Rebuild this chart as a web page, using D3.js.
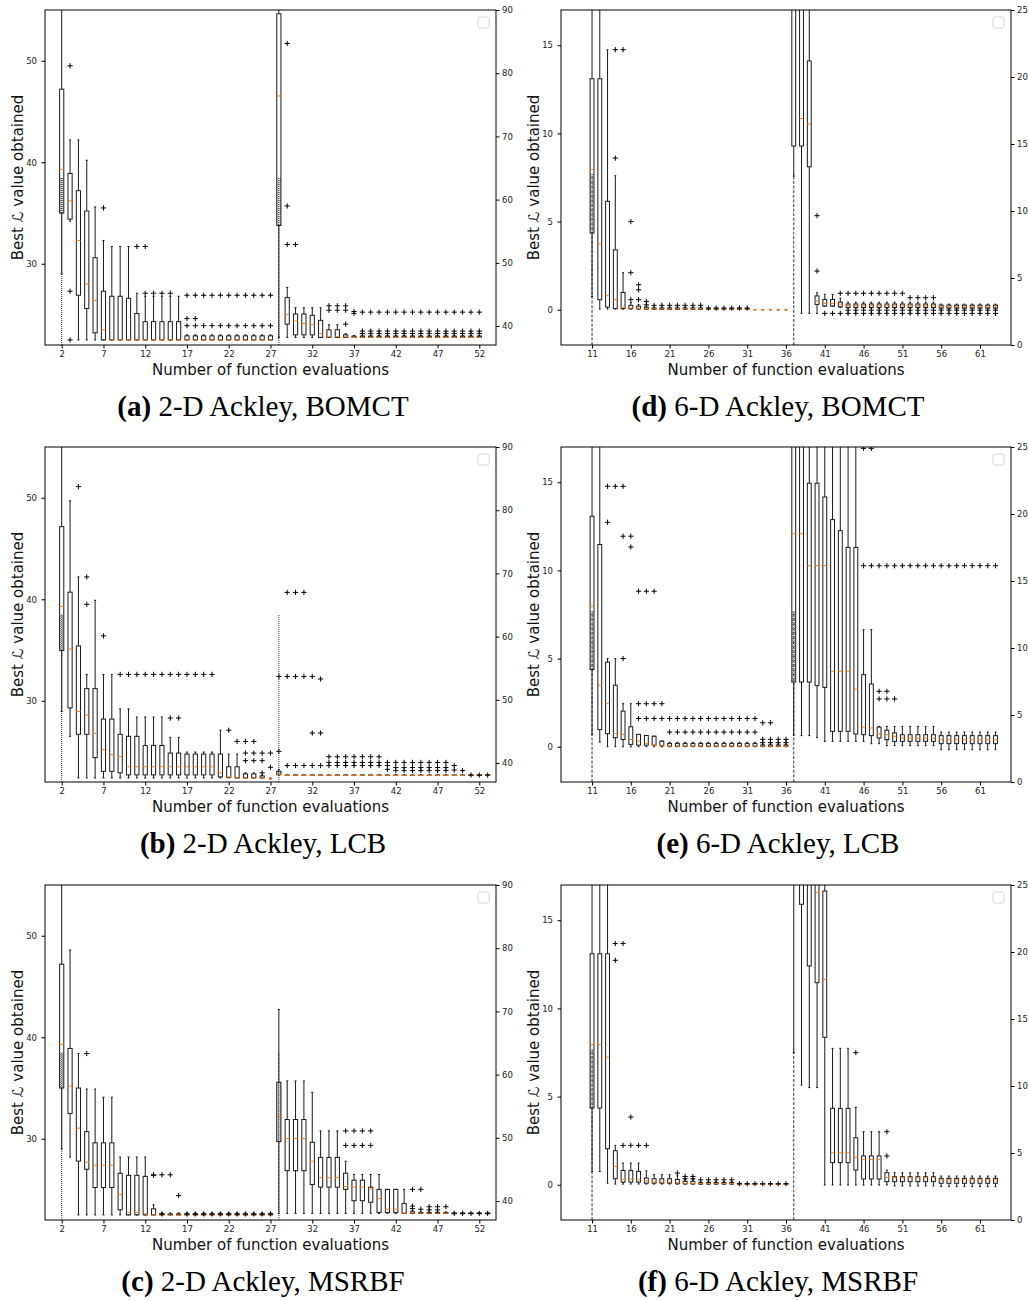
<!DOCTYPE html>
<html>
<head>
<meta charset="utf-8">
<script src="https://cdn.jsdelivr.net/npm/d3@7"></script>
<style>
  body { margin: 0; background: #fff; }
  svg { display: block; }
</style>
</head>
<body>
<svg id="fig" width="1028" height="1301"></svg>
<script>
// Box statistics rows: [position, lowWhisker, q1, median, q3, highWhisker]
// Flier rows: [position, value, value, ...]

// ---- (a) 2-D Ackley, BOMCT
const aLeftStats = [
  [2, 29.0, 35.0, 39.3, 47.2, 60], [3, 34.2, 34.4, 36.2, 38.9, 42.2], [4, 22.5, 26.9, 32.3, 37.2, 42.2],
  [5, 22.5, 25.6, 28.0, 35.2, 40.2], [6, 22.5, 23.2, 26.4, 30.6, 35.6], [7, 22.5, 22.5, 23.5, 27.3, 32.3],
  [8, 22.5, 22.5, 22.5, 26.8, 31.7], [9, 22.5, 22.5, 22.5, 26.8, 31.7], [10, 22.5, 22.5, 22.5, 26.6, 31.7],
  [11, 22.5, 22.5, 22.5, 25.1, 27.1], [12, 22.5, 22.5, 22.5, 24.3, 26.8], [13, 22.5, 22.5, 22.5, 24.3, 26.8],
  [14, 22.5, 22.5, 22.5, 24.3, 26.8], [15, 22.5, 22.5, 22.5, 24.3, 26.8], [16, 22.5, 22.5, 22.5, 24.3, 26.8],
  [17, 22.5, 22.5, 22.5, 22.9, 23.0], [18, 22.5, 22.5, 22.5, 22.9, 23.0], [19, 22.5, 22.5, 22.5, 22.9, 23.0],
  [20, 22.5, 22.5, 22.5, 22.9, 23.0], [21, 22.5, 22.5, 22.5, 22.9, 23.0], [22, 22.5, 22.5, 22.5, 22.9, 23.0],
  [23, 22.5, 22.5, 22.5, 22.9, 23.0], [24, 22.5, 22.5, 22.5, 22.9, 23.0], [25, 22.5, 22.5, 22.5, 22.9, 23.0],
  [26, 22.5, 22.5, 22.5, 22.9, 23.0], [27, 22.5, 22.5, 22.5, 22.9, 23.0]
];
const aLeftFliers = [
  [3, 49.5, 27.3, 22.5], [7, 35.5], [11, 31.7], [12, 31.7, 27.1], [13, 27.1], [14, 27.1], [15, 27.1],
  [17, 26.9, 24.6, 23.9], [18, 26.9, 24.6, 23.9], [19, 26.9, 23.9], [20, 26.9, 23.9], [21, 26.9, 23.9],
  [22, 26.9, 23.9], [23, 26.9, 23.9], [24, 26.9, 23.9], [25, 26.9, 23.9], [26, 26.9, 23.9], [27, 26.9, 23.9]
];
const aRightStats = [
  [28, 38.2, 55.9, 76.4, 89.4, 95], [29, 38.2, 40.3, 41.8, 44.5, 46.1], [30, 38.2, 38.6, 40.8, 41.9, 42.9],
  [31, 38.2, 38.6, 40.4, 41.9, 42.9], [32, 38.2, 38.6, 40.2, 41.7, 42.9], [33, 38.2, 38.2, 38.8, 40.9, 42.9],
  [34, 38.2, 38.2, 38.3, 39.4, 40.2], [35, 38.2, 38.2, 38.3, 39.4, 40.2], [36, 38.2, 38.2, 38.3, 38.6, 38.8],
  [37, 38.2, 38.2, 38.2, 38.4, 38.5], [38, 38.2, 38.2, 38.2, 38.4, 38.5], [39, 38.2, 38.2, 38.2, 38.4, 38.5],
  [40, 38.2, 38.2, 38.2, 38.4, 38.5], [41, 38.2, 38.2, 38.2, 38.4, 38.5], [42, 38.2, 38.2, 38.2, 38.4, 38.5],
  [43, 38.2, 38.2, 38.2, 38.4, 38.5], [44, 38.2, 38.2, 38.2, 38.4, 38.5], [45, 38.2, 38.2, 38.2, 38.4, 38.5],
  [46, 38.2, 38.2, 38.2, 38.4, 38.5], [47, 38.2, 38.2, 38.2, 38.4, 38.5], [48, 38.2, 38.2, 38.2, 38.4, 38.5],
  [49, 38.2, 38.2, 38.2, 38.4, 38.5], [50, 38.2, 38.2, 38.2, 38.4, 38.5], [51, 38.2, 38.2, 38.2, 38.4, 38.5],
  [52, 38.2, 38.2, 38.2, 38.4, 38.5]
];
const aRightFliers = [
  [29, 84.7, 59.0, 52.9], [30, 52.9], [34, 43.2, 42.5], [35, 43.2, 42.5], [36, 43.2, 42.5, 40.3], [37, 42.3, 42.0],
  [38, 42.2, 39.2, 38.8], [39, 42.2, 39.2, 38.8], [40, 42.2, 39.2, 38.8], [41, 42.2, 39.2, 38.8], [42, 42.2, 39.2, 38.8],
  [43, 42.2, 39.2, 38.8], [44, 42.2, 39.2, 38.8], [45, 42.2, 39.2, 38.8], [46, 42.2, 39.2, 38.8], [47, 42.2, 39.2, 38.8],
  [48, 42.2, 39.2, 38.8], [49, 42.2, 39.2, 38.8], [50, 42.2, 39.2, 38.8], [51, 42.2, 39.2, 38.8], [52, 42.2, 39.2, 38.8]
];

// ---- (b) 2-D Ackley, LCB
const bLeftStats = [
  [2, 28.95, 34.95, 39.3, 47.15, 60], [3, 26.5, 29.3, 35.1, 40.7, 49.7], [4, 22.4, 26.7, 28.95, 35.4, 42.2],
  [5, 22.4, 26.7, 28.6, 31.2, 32.6], [6, 22.4, 24.4, 26.8, 31.2, 39.9], [7, 22.4, 23.05, 25.2, 28.2, 32.6],
  [8, 22.4, 23.05, 24.7, 28.2, 32.6], [9, 22.4, 22.9, 24.5, 26.7, 29.2], [10, 22.4, 22.7, 23.5, 26.5, 29.2],
  [11, 22.4, 22.7, 23.5, 26.5, 28.4], [12, 22.4, 22.7, 23.5, 25.6, 28.4], [13, 22.4, 22.7, 23.5, 25.6, 28.4],
  [14, 22.4, 22.7, 23.5, 25.6, 28.4], [15, 22.4, 22.7, 23.5, 24.85, 26.4], [16, 22.4, 22.7, 23.5, 24.85, 26.4],
  [17, 22.4, 22.7, 23.5, 24.75, 24.95], [18, 22.4, 22.7, 23.5, 24.75, 24.95], [19, 22.4, 22.7, 23.5, 24.75, 24.95],
  [20, 22.4, 22.7, 23.5, 24.75, 24.95], [21, 22.4, 22.5, 22.9, 24.75, 27.1], [22, 22.4, 22.45, 22.5, 23.5, 24.75],
  [23, 22.4, 22.4, 22.4, 23.5, 24.75], [24, 22.4, 22.4, 22.4, 22.8, 22.9], [25, 22.4, 22.4, 22.4, 22.8, 22.9],
  [26, 22.4, 22.4, 22.4, 22.6, 22.7], [27, 22.3, 22.3, 22.3, 22.3, 22.4]
];
const bLeftFliers = [
  [4, 51.1], [5, 42.2, 39.5], [7, 36.4], [9, 32.6], [10, 32.6], [11, 32.6], [12, 32.6], [13, 32.6], [14, 32.6],
  [15, 32.6, 28.3], [16, 32.6, 28.3], [17, 32.6], [18, 32.6], [19, 32.6], [20, 32.6],
  [22, 27.1], [23, 26.0], [24, 26.0, 24.85, 24.1], [25, 26.0, 24.85, 24.1], [26, 24.85, 24.1, 22.9], [27, 24.85, 23.45]
];
const bRightStats = [
  [28, 38.1, 38.15, 38.15, 38.7, 39.0], [29, 38.05, 38.05, 38.05, 38.1, 38.1], [30, 38.05, 38.05, 38.05, 38.1, 38.1],
  [31, 38.05, 38.05, 38.05, 38.1, 38.1], [32, 38.05, 38.05, 38.05, 38.1, 38.1], [33, 38.05, 38.05, 38.05, 38.1, 38.1],
  [34, 38.05, 38.05, 38.05, 38.1, 38.1], [35, 38.05, 38.05, 38.05, 38.1, 38.1], [36, 38.05, 38.05, 38.05, 38.1, 38.1],
  [37, 38.05, 38.05, 38.05, 38.1, 38.1], [38, 38.05, 38.05, 38.05, 38.1, 38.1], [39, 38.05, 38.05, 38.05, 38.1, 38.1],
  [40, 38.05, 38.05, 38.05, 38.1, 38.1], [41, 38.05, 38.05, 38.05, 38.1, 38.1], [42, 38.05, 38.05, 38.05, 38.1, 38.1],
  [43, 38.05, 38.05, 38.05, 38.1, 38.1], [44, 38.05, 38.05, 38.05, 38.1, 38.1], [45, 38.05, 38.05, 38.05, 38.1, 38.1],
  [46, 38.05, 38.05, 38.05, 38.1, 38.1], [47, 38.05, 38.05, 38.05, 38.1, 38.1], [48, 38.05, 38.05, 38.05, 38.1, 38.1],
  [49, 38.05, 38.05, 38.05, 38.1, 38.1], [50, 38.05, 38.05, 38.05, 38.1, 38.1], [51, 38.05, 38.05, 38.05, 38.1, 38.1],
  [52, 38.05, 38.05, 38.05, 38.1, 38.1], [53, 38.05, 38.05, 38.05, 38.1, 38.1]
];
const bRightFliers = [
  [28, 53.7, 41.85], [29, 67.0, 53.7, 39.6], [30, 67.0, 53.7, 39.6], [31, 67.0, 53.7, 39.6],
  [32, 53.7, 44.75, 39.6], [33, 53.3, 44.75, 39.6],
  [34, 41.0, 40.1, 39.6], [35, 41.0, 40.1, 39.6], [36, 41.0, 40.1, 39.6], [37, 41.0, 40.1, 39.6],
  [38, 41.0, 40.1, 39.6], [39, 41.0, 40.1, 39.6], [40, 41.0, 40.1, 39.6], [41, 40.1, 39.6, 39.0],
  [42, 40.1, 39.3, 38.8], [43, 40.1, 39.3, 38.8], [44, 40.1, 39.3, 38.8], [45, 40.1, 39.3, 38.8],
  [46, 40.1, 39.3, 38.8], [47, 40.1, 39.3, 38.8], [48, 40.1, 39.3, 38.8], [49, 39.6, 38.9], [50, 38.8],
  [51, 38.1], [52, 38.1], [53, 38.1]
];

// ---- (c) 2-D Ackley, MSRBF
const cLeftStats = [
  [2, 29.0, 35.0, 39.3, 47.2, 60], [3, 28.2, 32.5, 35.2, 38.9, 48.6], [4, 22.5, 27.8, 31.05, 35.0, 38.4],
  [5, 22.5, 27.0, 27.7, 30.7, 34.9], [6, 22.5, 25.2, 27.4, 29.6, 34.9], [7, 22.5, 25.2, 27.4, 29.6, 34.1],
  [8, 22.5, 25.2, 27.4, 29.6, 34.1], [9, 22.5, 23.0, 24.5, 26.6, 28.2], [10, 22.5, 22.5, 22.75, 26.4, 28.2],
  [11, 22.5, 22.5, 22.75, 26.4, 28.2], [12, 22.5, 22.5, 22.6, 26.3, 28.2], [13, 22.5, 22.5, 22.5, 23.1, 23.5],
  [14, 22.5, 22.5, 22.5, 22.6, 22.7], [15, 22.5, 22.5, 22.5, 22.6, 22.7], [16, 22.5, 22.5, 22.5, 22.6, 22.7],
  [17, 22.5, 22.5, 22.5, 22.6, 22.7], [18, 22.5, 22.5, 22.5, 22.6, 22.7], [19, 22.5, 22.5, 22.5, 22.6, 22.7],
  [20, 22.5, 22.5, 22.5, 22.6, 22.7], [21, 22.5, 22.5, 22.5, 22.6, 22.7], [22, 22.5, 22.5, 22.5, 22.6, 22.7],
  [23, 22.5, 22.5, 22.5, 22.6, 22.7], [24, 22.5, 22.5, 22.5, 22.6, 22.7], [25, 22.5, 22.5, 22.5, 22.6, 22.7],
  [26, 22.5, 22.5, 22.5, 22.6, 22.7], [27, 22.5, 22.5, 22.5, 22.6, 22.7]
];
const cLeftFliers = [
  [5, 38.4], [13, 26.45, 26.4], [14, 26.45, 22.6], [15, 26.45], [16, 24.4], [17, 22.6], [18, 22.6], [19, 22.6],
  [20, 22.6], [21, 22.6], [22, 22.6], [23, 22.6], [24, 22.6], [25, 22.6], [26, 22.6], [27, 22.6]
];
const cRightStats = [
  [28, 38.05, 49.4, 53.3, 58.8, 70.3], [29, 38.05, 44.8, 49.9, 52.9, 59.0], [30, 38.05, 44.8, 49.9, 52.9, 59.0],
  [31, 38.05, 44.8, 49.9, 52.9, 59.0], [32, 38.05, 42.6, 46.3, 49.3, 57.2], [33, 38.05, 42.2, 43.7, 46.9, 51.1],
  [34, 38.05, 42.2, 43.7, 46.9, 51.1], [35, 38.05, 42.2, 43.7, 46.9, 51.1], [36, 38.05, 41.85, 42.3, 44.4, 46.3],
  [37, 38.05, 40.05, 42.2, 43.3, 44.2], [38, 38.05, 40.05, 42.2, 43.3, 44.2], [39, 38.05, 39.8, 41.9, 42.2, 44.2],
  [40, 38.05, 38.2, 40.4, 41.85, 44.2], [41, 38.05, 38.2, 38.7, 41.85, 41.85], [42, 38.05, 38.2, 38.7, 41.85, 41.85],
  [43, 38.05, 38.05, 38.1, 39.6, 41.85], [44, 38.05, 38.05, 38.1, 38.3, 38.5], [45, 38.05, 38.05, 38.1, 38.2, 38.3],
  [46, 38.05, 38.05, 38.1, 38.2, 38.3], [47, 38.05, 38.05, 38.1, 38.2, 38.3], [48, 38.05, 38.05, 38.1, 38.2, 38.3],
  [49, 38.0, 38.0, 38.05, 38.1, 38.1], [50, 38.0, 38.0, 38.05, 38.1, 38.1], [51, 38.0, 38.0, 38.05, 38.1, 38.1],
  [52, 38.0, 38.0, 38.05, 38.1, 38.1], [53, 38.0, 38.0, 38.05, 38.1, 38.1]
];
const cRightFliers = [
  [36, 51.1, 48.8], [37, 51.1, 48.8], [38, 51.1, 48.8], [39, 51.1, 48.8], [44, 41.85, 39.2, 38.8], [45, 41.85, 38.7],
  [46, 39.1, 38.6], [47, 39.1, 38.6], [48, 39.1], [49, 38.05], [50, 38.05], [51, 38.05], [52, 38.05], [53, 38.05]
];

// ---- (d) 6-D Ackley, BOMCT
const dLeftStats = [
  [11, 0.75, 4.35, 7.95, 13.1, 20], [12, 0.04, 0.57, 3.73, 13.1, 20], [13, 0.04, 0.15, 0.8, 6.15, 14.75],
  [14, 0.04, 0.06, 0.57, 3.4, 7.6], [15, 0.04, 0.06, 0.15, 0.98, 2.1], [16, 0.04, 0.05, 0.1, 0.25, 0.4],
  [17, 0.03, 0.05, 0.08, 0.2, 0.3], [18, 0.03, 0.04, 0.06, 0.15, 0.2], [19, 0.02, 0.03, 0.05, 0.1, 0.15],
  [20, 0.02, 0.03, 0.05, 0.1, 0.15], [21, 0.02, 0.03, 0.05, 0.1, 0.15], [22, 0.02, 0.03, 0.05, 0.1, 0.15],
  [23, 0.02, 0.03, 0.05, 0.1, 0.15], [24, 0.02, 0.03, 0.05, 0.1, 0.15], [25, 0.02, 0.03, 0.05, 0.1, 0.15],
  [26, 0.01, 0.02, 0.03, 0.05, 0.06], [27, 0.01, 0.02, 0.03, 0.05, 0.06], [28, 0.01, 0.02, 0.03, 0.05, 0.06],
  [29, 0.01, 0.02, 0.03, 0.05, 0.06], [30, 0.01, 0.02, 0.03, 0.05, 0.06], [31, 0.01, 0.02, 0.03, 0.05, 0.06],
  [32, 0, 0, 0, 0, 0], [33, 0, 0, 0, 0, 0], [34, 0, 0, 0, 0, 0], [35, 0, 0, 0, 0, 0], [36, 0, 0, 0, 0, 0]
];
const dLeftFliers = [
  [14, 14.75, 8.6], [15, 14.75], [16, 5.0, 2.1, 0.57], [17, 1.42, 1.13, 0.57], [18, 0.47, 0.28],
  [19, 0.25], [20, 0.25], [21, 0.25], [22, 0.25], [23, 0.25], [24, 0.25], [25, 0.25],
  [26, 0.1], [27, 0.1], [28, 0.1], [29, 0.1], [30, 0.1], [31, 0.1]
];
const dRightStats = [
  [37, 12.6, 14.85, 28, 32, 35], [38, 2.36, 14.85, 16.9, 30, 34], [39, 2.36, 13.3, 16.5, 21.2, 30],
  [40, 2.36, 3.03, 3.28, 3.66, 3.9], [41, 2.9, 2.9, 3.1, 3.4, 3.78], [42, 2.9, 2.9, 3.1, 3.4, 3.78],
  [43, 2.8, 2.85, 3.05, 3.2, 3.5], [44, 2.75, 2.8, 2.93, 3.06, 3.2], [45, 2.75, 2.8, 2.93, 3.06, 3.2],
  [46, 2.75, 2.8, 2.93, 3.06, 3.2], [47, 2.75, 2.8, 2.93, 3.06, 3.2], [48, 2.75, 2.8, 2.93, 3.06, 3.2],
  [49, 2.75, 2.8, 2.93, 3.06, 3.2], [50, 2.75, 2.8, 2.93, 3.06, 3.2], [51, 2.75, 2.8, 2.93, 3.06, 3.2],
  [52, 2.75, 2.8, 2.93, 3.06, 3.2], [53, 2.75, 2.8, 2.93, 3.06, 3.2], [54, 2.75, 2.8, 2.93, 3.06, 3.2],
  [55, 2.75, 2.8, 2.93, 3.06, 3.2], [56, 2.7, 2.75, 2.86, 2.98, 3.05], [57, 2.7, 2.75, 2.86, 2.98, 3.05],
  [58, 2.7, 2.75, 2.86, 2.98, 3.05], [59, 2.7, 2.75, 2.86, 2.98, 3.05], [60, 2.7, 2.75, 2.86, 2.98, 3.05],
  [61, 2.7, 2.75, 2.86, 2.98, 3.05], [62, 2.7, 2.75, 2.86, 2.98, 3.05], [63, 2.7, 2.75, 2.86, 2.98, 3.05]
];
const dRightFliers = [
  [40, 9.65, 5.52], [41, 2.36], [42, 2.36], [43, 3.86, 2.36],
  [44, 3.86, 2.6, 2.36], [45, 3.86, 2.6, 2.36], [46, 3.86, 2.6, 2.36], [47, 3.86, 2.6, 2.36],
  [48, 3.86, 2.6, 2.36], [49, 3.86, 2.6, 2.36], [50, 3.86, 2.6, 2.36], [51, 3.86, 2.6, 2.36],
  [52, 3.53, 2.6, 2.36], [53, 3.53, 2.6, 2.36], [54, 3.53, 2.6, 2.36], [55, 3.53, 2.6, 2.36],
  [56, 2.6, 2.36], [57, 2.6, 2.36], [58, 2.6, 2.36], [59, 2.6, 2.36], [60, 2.6, 2.36], [61, 2.6, 2.36],
  [62, 2.6, 2.36], [63, 2.6, 2.36]
];

// ---- (e) 6-D Ackley, LCB
const eLeftStats = [
  [11, 0.70, 4.38, 7.97, 13.07, 20], [12, 0.26, 0.98, 3.49, 11.47, 20], [13, 0.0, 0.74, 2.44, 4.8, 5.0],
  [14, 0.0, 0.51, 0.74, 3.49, 5.0], [15, 0.0, 0.41, 0.70, 2.02, 2.44], [16, 0.0, 0.13, 0.41, 1.13, 2.44],
  [17, 0.0, 0.09, 0.32, 0.70, 0.70], [18, 0.0, 0.09, 0.19, 0.64, 0.64], [19, 0.0, 0.09, 0.09, 0.6, 0.6],
  [20, 0.0, 0.05, 0.09, 0.32, 0.32], [21, 0.0, 0.03, 0.04, 0.19, 0.25], [22, 0.0, 0.03, 0.04, 0.19, 0.25],
  [23, 0.0, 0.03, 0.04, 0.19, 0.25], [24, 0.0, 0.03, 0.04, 0.19, 0.25], [25, 0.0, 0.03, 0.04, 0.19, 0.25],
  [26, 0.0, 0.03, 0.04, 0.19, 0.25], [27, 0.0, 0.03, 0.04, 0.19, 0.25], [28, 0.0, 0.03, 0.04, 0.19, 0.25],
  [29, 0.0, 0.03, 0.04, 0.19, 0.25], [30, 0.0, 0.03, 0.04, 0.19, 0.25], [31, 0.0, 0.03, 0.04, 0.19, 0.25],
  [32, 0.0, 0.03, 0.04, 0.19, 0.25], [33, 0.0, 0.02, 0.03, 0.1, 0.15], [34, 0.0, 0.02, 0.03, 0.1, 0.15],
  [35, 0.0, 0.02, 0.03, 0.1, 0.15], [36, 0.0, 0.02, 0.03, 0.1, 0.15]
];
const eLeftFliers = [
  [13, 14.77, 12.73], [14, 14.77], [15, 14.77, 11.94, 5.0], [16, 11.94, 11.33],
  [17, 8.82, 2.44, 1.6], [18, 8.82, 2.44, 1.6], [19, 8.82, 2.44, 1.6], [20, 2.44, 1.6],
  [21, 1.6, 0.83], [22, 1.6, 0.83], [23, 1.6, 0.83], [24, 1.6, 0.83], [25, 1.6, 0.83], [26, 1.6, 0.83],
  [27, 1.6, 0.83], [28, 1.6, 0.83], [29, 1.6, 0.83], [30, 1.6, 0.83], [31, 1.6, 0.83], [32, 1.6, 0.83],
  [33, 1.36, 0.42, 0.23], [34, 1.36, 0.42, 0.23], [35, 0.42, 0.23], [36, 0.42, 0.23]
];
const eRightStats = [
  [37, 3.5, 7.46, 18.53, 30, 35], [38, 3.46, 7.46, 18.53, 30, 35], [39, 3.46, 7.46, 16.14, 22.3, 30],
  [40, 3.33, 7.19, 16.14, 22.3, 30], [41, 3.03, 7.06, 16.14, 21.27, 30], [42, 3.03, 3.78, 8.26, 19.58, 30],
  [43, 3.03, 3.78, 8.26, 18.76, 30], [44, 3.03, 3.78, 8.26, 17.51, 30], [45, 3.03, 3.58, 6.94, 17.51, 30],
  [46, 3.03, 3.53, 4.1, 8.01, 11.37], [47, 2.86, 3.46, 4.03, 7.31, 11.37], [48, 2.86, 3.28, 3.6, 4.1, 4.15],
  [49, 2.71, 3.16, 3.53, 3.86, 4.15], [50, 2.71, 3.03, 3.41, 3.66, 4.15], [51, 2.71, 3.03, 3.28, 3.53, 4.15],
  [52, 2.71, 3.03, 3.28, 3.53, 4.15], [53, 2.71, 3.03, 3.28, 3.53, 4.15], [54, 2.71, 3.03, 3.28, 3.53, 4.15],
  [55, 2.71, 3.03, 3.28, 3.53, 4.15], [56, 2.41, 2.86, 3.16, 3.46, 3.73], [57, 2.41, 2.86, 3.16, 3.46, 3.73],
  [58, 2.41, 2.86, 3.16, 3.46, 3.73], [59, 2.41, 2.86, 3.16, 3.46, 3.73], [60, 2.41, 2.86, 3.16, 3.46, 3.73],
  [61, 2.41, 2.86, 3.16, 3.46, 3.73], [62, 2.41, 2.86, 3.16, 3.46, 3.73], [63, 2.41, 2.86, 3.16, 3.46, 3.73]
];
const eRightFliers = [
  [46, 24.9, 16.14], [47, 24.9, 16.14], [48, 16.14, 6.77, 6.2], [49, 16.14, 6.77, 6.2], [50, 16.14, 6.2],
  [51, 16.14], [52, 16.14], [53, 16.14], [54, 16.14], [55, 16.14], [56, 16.14], [57, 16.14],
  [58, 16.14], [59, 16.14], [60, 16.14], [61, 16.14], [62, 16.14], [63, 16.14]
];

// ---- (f) 6-D Ackley, MSRBF
const fLeftStats = [
  [11, 0.75, 4.35, 7.95, 13.1, 20], [12, 0.75, 4.35, 7.95, 13.1, 20], [13, 0.09, 2.04, 7.23, 13.1, 20],
  [14, 0.04, 0.34, 1.04, 1.93, 2.23], [15, 0.04, 0.15, 0.32, 0.81, 1.23], [16, 0.04, 0.15, 0.32, 0.81, 1.23],
  [17, 0.04, 0.15, 0.28, 0.76, 1.23], [18, 0.04, 0.09, 0.23, 0.38, 0.79], [19, 0.04, 0.09, 0.15, 0.34, 0.57],
  [20, 0.04, 0.09, 0.15, 0.34, 0.57], [21, 0.04, 0.09, 0.15, 0.34, 0.57], [22, 0.03, 0.06, 0.1, 0.3, 0.5],
  [23, 0.03, 0.05, 0.08, 0.2, 0.3], [24, 0.03, 0.05, 0.08, 0.2, 0.3], [25, 0.02, 0.04, 0.06, 0.12, 0.18],
  [26, 0.02, 0.04, 0.06, 0.12, 0.18], [27, 0.02, 0.04, 0.06, 0.12, 0.18], [28, 0.02, 0.04, 0.06, 0.12, 0.18],
  [29, 0.02, 0.04, 0.06, 0.12, 0.18], [30, 0.01, 0.02, 0.03, 0.04, 0.05], [31, 0.01, 0.02, 0.03, 0.04, 0.05],
  [32, 0.01, 0.02, 0.03, 0.04, 0.05], [33, 0.01, 0.02, 0.03, 0.04, 0.05], [34, 0.01, 0.02, 0.03, 0.04, 0.05],
  [35, 0.01, 0.02, 0.03, 0.04, 0.05], [36, 0.01, 0.02, 0.03, 0.04, 0.05]
];
const fLeftFliers = [
  [14, 13.68, 12.73], [15, 13.68, 2.23], [16, 3.84, 2.23], [17, 2.23], [18, 2.23], [22, 0.66],
  [23, 0.47, 0.34], [24, 0.47, 0.34], [25, 0.28], [26, 0.28], [27, 0.28], [28, 0.28], [29, 0.28],
  [30, 0.06], [31, 0.06], [32, 0.06], [33, 0.06], [34, 0.06], [35, 0.06], [36, 0.06]
];
const fRightStats = [
  [37, 12.49, 27, 32, 36, 40], [38, 10.07, 23.56, 30, 34, 38], [39, 9.88, 18.96, 28, 32, 36],
  [40, 9.88, 17.71, 24.45, 30, 34], [41, 2.61, 13.63, 17.96, 24.55, 30], [42, 2.61, 4.28, 5.02, 8.33, 12.81],
  [43, 2.61, 4.28, 5.02, 8.33, 12.81], [44, 2.61, 4.28, 5.02, 8.33, 12.81], [45, 2.61, 3.73, 4.68, 6.14, 8.41],
  [46, 2.61, 3.06, 4.53, 4.78, 6.59], [47, 2.61, 3.06, 4.53, 4.78, 6.59], [48, 2.61, 3.06, 4.53, 4.78, 6.59],
  [49, 2.61, 2.86, 3.18, 3.53, 3.73], [50, 2.54, 2.86, 3.16, 3.23, 3.53], [51, 2.54, 2.86, 3.16, 3.23, 3.53],
  [52, 2.54, 2.86, 3.16, 3.23, 3.53], [53, 2.54, 2.86, 3.16, 3.23, 3.53], [54, 2.54, 2.86, 3.16, 3.23, 3.53],
  [55, 2.54, 2.86, 3.16, 3.23, 3.53], [56, 2.49, 2.74, 2.99, 3.11, 3.28], [57, 2.49, 2.74, 2.99, 3.11, 3.28],
  [58, 2.49, 2.74, 2.99, 3.11, 3.28], [59, 2.49, 2.74, 2.99, 3.11, 3.28], [60, 2.49, 2.74, 2.99, 3.11, 3.28],
  [61, 2.49, 2.74, 2.99, 3.11, 3.28], [62, 2.49, 2.74, 2.99, 3.11, 3.28], [63, 2.49, 2.74, 2.99, 3.11, 3.28]
];
const fRightFliers = [[45, 12.49], [49, 6.59, 4.78]];

// ---- Axes ticks and labels
const xTicks2D = [2, 7, 12, 17, 22, 27, 32, 37, 42, 47, 52];
const xTicks6D = [11, 16, 21, 26, 31, 36, 41, 46, 51, 56, 61];
const leftTicks2D = [30, 40, 50];
const rightTicks2D = [40, 50, 60, 70, 80, 90];
const leftTicks6D = [0, 5, 10, 15];
const rightTicks6D = [0, 5, 10, 15, 20, 25];
const xLabel = "Number of function evaluations";
const yLabelPre = "Best ", yLabelSym = "\u2112", yLabelPost = " value obtained";
const captions = [
  ["(a)", " 2-D Ackley, BOMCT"], ["(b)", " 2-D Ackley, LCB"], ["(c)", " 2-D Ackley, MSRBF"],
  ["(d)", " 6-D Ackley, BOMCT"], ["(e)", " 6-D Ackley, LCB"], ["(f)", " 6-D Ackley, MSRBF"]
];

// ---- Layout
const columns = [
  { x0: 45, x1: 496, xDomain: [0, 54], xTicks: xTicks2D, leftDomain: [22, 55], leftTicks: leftTicks2D,
    rightDomain: [37, 90], rightTicks: rightTicks2D, markerPos: [2, 28], markerTop: 38.5, markerDash: "1,1",
    yLabelX: 18, captionX: 263 },
  { x0: 561, x1: 1011, xDomain: [7, 65], xTicks: xTicks6D, leftDomain: [-2, 17], leftTicks: leftTicks6D,
    rightDomain: [0, 25], rightTicks: rightTicks6D, markerPos: [11, 37], markerTop: 7.7, markerDash: "3,1.6",
    yLabelX: 534, captionX: 778 }
];
const rowsTop = [10, 447, 885];
const plotH = 335;

const panels = [
  { col: 0, row: 0, cap: captions[0], L: aLeftStats, LF: aLeftFliers, R: aRightStats, RF: aRightFliers },
  { col: 0, row: 1, cap: captions[1], L: bLeftStats, LF: bLeftFliers, R: bRightStats, RF: bRightFliers },
  { col: 0, row: 2, cap: captions[2], L: cLeftStats, LF: cLeftFliers, R: cRightStats, RF: cRightFliers },
  { col: 1, row: 0, cap: captions[3], L: dLeftStats, LF: dLeftFliers, R: dRightStats, RF: dRightFliers },
  { col: 1, row: 1, cap: captions[4], L: eLeftStats, LF: eLeftFliers, R: eRightStats, RF: eRightFliers },
  { col: 1, row: 2, cap: captions[5], L: fLeftStats, LF: fLeftFliers, R: fRightStats, RF: fRightFliers }
];

const svg = d3.select("#fig");
const defs = svg.append("defs");
const dots = defs.append("pattern").attr("id", "dots").attr("patternUnits", "userSpaceOnUse")
  .attr("width", 2).attr("height", 2);
dots.append("rect").attr("width", 2).attr("height", 2).attr("fill", "#e2e2e2");
dots.append("rect").attr("width", 1).attr("height", 1).attr("fill", "#8a8a8a");

const TICK_FONT = "DejaVu Sans, sans-serif";
const BOX_W = 0.5, CAP_W = 0.25;

function drawBoxes(g, x, y, stats, fliers) {
  const bw = x(BOX_W) - x(0), cw = x(CAP_W) - x(0);
  const rows = stats.map(r => ({ p: r[0], lo: r[1], q1: r[2], med: r[3], q3: r[4], hi: r[5] }));
  const sel = g.append("g").selectAll("g").data(rows).join("g");
  // whiskers
  sel.append("line").attr("x1", d => x(d.p)).attr("x2", d => x(d.p))
    .attr("y1", d => y(d.q1)).attr("y2", d => y(d.lo)).attr("stroke", "#1a1a1a");
  sel.append("line").attr("x1", d => x(d.p)).attr("x2", d => x(d.p))
    .attr("y1", d => y(d.q3)).attr("y2", d => y(d.hi)).attr("stroke", "#1a1a1a");
  // caps
  sel.append("line").attr("x1", d => x(d.p) - cw / 2).attr("x2", d => x(d.p) + cw / 2)
    .attr("y1", d => y(d.lo)).attr("y2", d => y(d.lo)).attr("stroke", "#1a1a1a");
  sel.append("line").attr("x1", d => x(d.p) - cw / 2).attr("x2", d => x(d.p) + cw / 2)
    .attr("y1", d => y(d.hi)).attr("y2", d => y(d.hi)).attr("stroke", "#1a1a1a");
  // boxes
  sel.append("rect").attr("x", d => x(d.p) - bw / 2).attr("width", bw)
    .attr("y", d => y(d.q3)).attr("height", d => Math.max(0, y(d.q1) - y(d.q3)))
    .attr("fill", "none").attr("stroke", "#1a1a1a");
  // medians
  sel.append("line").attr("x1", d => x(d.p) - bw / 2).attr("x2", d => x(d.p) + bw / 2)
    .attr("y1", d => y(d.med)).attr("y2", d => y(d.med)).attr("stroke", "#ff7f0e");
  // fliers
  const pts = [];
  fliers.forEach(r => r.slice(1).forEach(v => pts.push({ p: r[0], v })));
  const s = 2.6;
  g.append("g").selectAll("path").data(pts).join("path")
    .attr("d", d => `M${x(d.p) - s},${y(d.v)}H${x(d.p) + s}M${x(d.p)},${y(d.v) - s}V${y(d.v) + s}`)
    .attr("stroke", "#000").attr("stroke-width", 1).attr("fill", "none");
}

panels.forEach((P, i) => {
  const C = columns[P.col];
  const y0 = rowsTop[P.row], y1 = y0 + plotH;
  const x = d3.scaleLinear().domain(C.xDomain).range([C.x0, C.x1]);
  const yL = d3.scaleLinear().domain(C.leftDomain).range([y1, y0]);
  const yR = d3.scaleLinear().domain(C.rightDomain).range([y1, y0]);
  const g = svg.append("g");
  const clipId = "clip" + i;
  defs.append("clipPath").attr("id", clipId).append("rect")
    .attr("x", C.x0).attr("y", y0).attr("width", C.x1 - C.x0).attr("height", plotH);
  const inner = g.append("g").attr("clip-path", `url(#${clipId})`);

  // marker lines at the start of each run, shaded inside the overlapping box
  const bw = x(BOX_W) - x(0);
  const lineTop = yL(C.markerTop);
  C.markerPos.forEach((p, k) => {
    const stats = k === 0 ? P.L : P.R;
    const ys = k === 0 ? yL : yR;
    const b = stats.find(r => r[0] === p);
    if (b) {
      const top = Math.max(lineTop, ys(b[4])), bot = ys(b[2]);
      if (bot > top) inner.append("rect").attr("x", x(p) - bw / 2).attr("width", bw)
        .attr("y", top).attr("height", bot - top).attr("fill", "url(#dots)");
    }
    inner.append("line").attr("x1", x(p)).attr("x2", x(p)).attr("y1", y1).attr("y2", lineTop)
      .attr("stroke", "#333").attr("stroke-width", 1).attr("stroke-dasharray", C.markerDash);
  });

  drawBoxes(inner, x, yL, P.L, P.LF);
  drawBoxes(inner, x, yR, P.R, P.RF);

  // frame
  g.append("rect").attr("x", C.x0).attr("y", y0).attr("width", C.x1 - C.x0).attr("height", plotH)
    .attr("fill", "none").attr("stroke", "#000").attr("stroke-width", 1);

  // axes
  const ax = g.append("g").attr("transform", `translate(0,${y1})`)
    .call(d3.axisBottom(x).tickValues(C.xTicks).tickSize(3.5).tickSizeOuter(0).tickPadding(2.5));
  const al = g.append("g").attr("transform", `translate(${C.x0},0)`)
    .call(d3.axisLeft(yL).tickValues(C.leftTicks).tickSize(3.5).tickSizeOuter(0).tickPadding(4.5));
  const ar = g.append("g").attr("transform", `translate(${C.x1},0)`)
    .call(d3.axisRight(yR).tickValues(C.rightTicks).tickSize(3.5).tickSizeOuter(0).tickPadding(2.5));
  [ax, al, ar].forEach(a => {
    a.select(".domain").remove();
    a.selectAll("text").attr("font-family", TICK_FONT).attr("font-size", 8.5).attr("fill", "#222");
    a.selectAll("line").attr("stroke", "#000");
  });

  // empty legend frame
  g.append("rect").attr("x", C.x1 - 18).attr("y", y0 + 7).attr("width", 11).attr("height", 11)
    .attr("rx", 2).attr("fill", "#fff").attr("stroke", "#d6d6d6").attr("stroke-width", 1);

  // axis titles
  g.append("text").attr("x", (C.x0 + C.x1) / 2).attr("y", y1 + 30).attr("text-anchor", "middle")
    .attr("font-family", TICK_FONT).attr("font-size", 15).attr("fill", "#111").text(xLabel);
  const yl = g.append("text").attr("transform", `translate(${C.yLabelX + 5},${(y0 + y1) / 2}) rotate(-90)`)
    .attr("text-anchor", "middle").attr("font-family", TICK_FONT).attr("font-size", 15).attr("fill", "#111");
  yl.append("tspan").text(yLabelPre);
  yl.append("tspan").attr("font-style", "italic").text(yLabelSym);
  yl.append("tspan").text(yLabelPost);

  // caption
  const cap = g.append("text").attr("x", C.captionX).attr("y", y1 + 71).attr("text-anchor", "middle")
    .attr("font-family", "Liberation Serif, Times New Roman, serif").attr("font-size", 29).attr("fill", "#000");
  cap.append("tspan").attr("font-weight", "bold").text(P.cap[0]);
  cap.append("tspan").text(P.cap[1]);
});
</script>
</body>
</html>
